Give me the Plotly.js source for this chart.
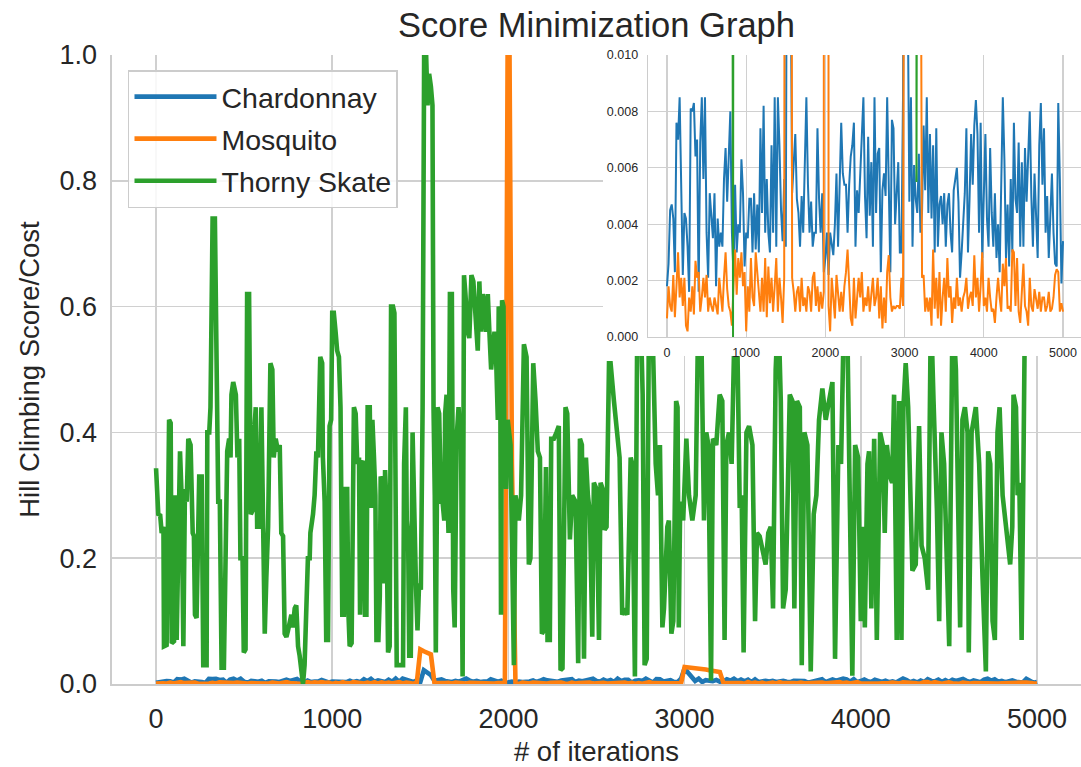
<!DOCTYPE html>
<html><head><meta charset="utf-8">
<script src="https://cdn.plot.ly/plotly-3.0.1.min.js"></script>
<style>html,body{margin:0;padding:0;background:#fff}#chart{width:1081px;height:767px}</style>
</head><body><div id="chart"></div>
<script>
// Sampled iterations for Chardonnay / Mosquito (every 20 iterations, 0..5000)
const sampleStep = 20;
const sampleIter = Array.from({length: 251}, (_, i) => i * sampleStep);

const chardonnayScore = [
0.0018,0.0026,0.0045,0.0047,0.0042,0.0023,0.0076,0.0070,0.0085,0.0047,
0.0022,0.0044,0.0042,0.0032,0.0016,0.0081,0.0080,0.0083,0.0064,0.0070,
0.0016,0.0069,0.0085,0.0056,0.0085,0.0037,0.0021,0.0051,0.0044,0.0035,
0.0051,0.0018,0.0042,0.0032,0.0037,0.0032,0.0056,0.0067,0.0048,0.0062,
0.0080,0.0037,0.0022,0.0054,0.0030,0.0040,0.0037,0.0063,0.0051,0.0025,
0.0037,0.0035,0.0049,0.0049,0.0030,0.0051,0.0031,0.0047,0.0030,0.0074,
0.0044,0.0082,0.0037,0.0056,0.0037,0.0030,0.0068,0.0037,0.0085,0.0032,
0.0085,0.0068,0.0045,0.0034,0.0056,0.0032,0.0220,0.0170,0.0140,0.0051,
0.0061,0.0072,0.0049,0.0044,0.0032,0.0050,0.0037,0.0061,0.0085,0.0054,
0.0037,0.0048,0.0032,0.0037,0.0037,0.0074,0.0049,0.0037,0.0051,0.0023,
0.0028,0.0037,0.0022,0.0037,0.0032,0.0029,0.0040,0.0058,0.0032,0.0051,
0.0076,0.0058,0.0054,0.0054,0.0037,0.0054,0.0064,0.0068,0.0076,0.0032,
0.0052,0.0044,0.0058,0.0068,0.0085,0.0050,0.0035,0.0071,0.0043,0.0062,
0.0032,0.0085,0.0044,0.0065,0.0067,0.0023,0.0052,0.0058,0.0050,0.0085,
0.0054,0.0023,0.0077,0.0074,0.0040,0.0054,0.0062,0.0030,0.0030,0.0085,
0.0250,0.0180,0.0120,0.0048,0.0085,0.0032,0.0061,0.0049,0.0044,0.0065,
0.0037,0.0044,0.0075,0.0052,0.0085,0.0044,0.0072,0.0042,0.0068,0.0030,
0.0074,0.0032,0.0047,0.0050,0.0040,0.0051,0.0032,0.0047,0.0051,0.0037,
0.0030,0.0052,0.0056,0.0060,0.0048,0.0021,0.0030,0.0040,0.0051,0.0074,
0.0030,0.0049,0.0072,0.0054,0.0075,0.0084,0.0072,0.0037,0.0076,0.0028,
0.0047,0.0072,0.0042,0.0032,0.0067,0.0044,0.0032,0.0051,0.0028,0.0040,
0.0023,0.0054,0.0085,0.0063,0.0028,0.0047,0.0025,0.0056,0.0030,0.0076,
0.0049,0.0044,0.0069,0.0032,0.0062,0.0032,0.0067,0.0048,0.0063,0.0080,
0.0050,0.0032,0.0058,0.0042,0.0028,0.0068,0.0083,0.0054,0.0074,0.0037,
0.0050,0.0028,0.0044,0.0058,0.0037,0.0026,0.0025,0.0083,0.0056,0.0019,
0.0034];

const mosquitoScore = [
0.00066,0.0018,0.0011,0.0009,0.0022,0.0007,0.0018,0.0030,0.0014,0.0021,
0.0011,0.0021,0.0004,0.0002,0.0014,0.0009,0.0018,0.0008,0.0027,0.0021,
0.0023,0.0009,0.0014,0.0021,0.0014,0.0022,0.0009,0.0014,0.0011,0.0009,
0.0014,0.0011,0.0008,0.0021,0.0014,0.0009,0.0021,0.0030,0.0017,0.0011,
0.0009,0.0004,0.0018,0.0031,0.0015,0.0028,0.0021,0.0030,0.0018,0.0023,
0.0002,0.0018,0.0009,0.0028,0.0014,0.0011,0.0030,0.0023,0.0016,0.0009,
0.0021,0.0009,0.0028,0.0007,0.0025,0.0012,0.0021,0.0009,0.0018,0.0028,
0.0009,0.0021,0.0014,0.0005,0.0021,0.0550,0.0520,0.0500,0.0470,0.0021,
0.0016,0.0009,0.0016,0.0018,0.0009,0.0021,0.0011,0.0014,0.0009,0.0018,
0.0016,0.0009,0.0021,0.0023,0.0011,0.0018,0.0009,0.0016,0.0010,0.0016,
1.3000,0.3500,0.0011,0.0002,0.0021,0.0014,0.00066,0.0022,0.0016,0.0009,
0.0016,0.0009,0.0018,0.0023,0.0031,0.0021,0.00066,0.0004,0.0021,0.00066,
0.0014,0.0021,0.0014,0.0023,0.0009,0.0014,0.0011,0.0018,0.0009,0.0014,
0.0021,0.0011,0.0014,0.0021,0.00066,0.0018,0.0003,0.0014,0.0005,0.0023,
0.0029,0.0014,0.0009,0.0011,0.0010,0.0011,0.0011,0.0010,0.0021,0.0011,
0.0270,0.0266,0.0261,0.0255,0.0248,0.0239,0.0230,0.0220,0.0210,0.0200,
0.0190,0.0021,0.0022,0.0009,0.0014,0.0009,0.0014,0.0004,0.0031,0.0010,
0.0021,0.00066,0.0023,0.0004,0.0014,0.0021,0.0009,0.0028,0.0014,0.0018,
0.0005,0.0014,0.0010,0.0021,0.0011,0.0014,0.0009,0.0014,0.0016,0.0021,
0.0010,0.0014,0.0016,0.0011,0.0029,0.0014,0.0021,0.0009,0.0018,0.0030,
0.0011,0.0014,0.0009,0.0021,0.0014,0.0009,0.0010,0.0005,0.0014,0.0021,
0.0014,0.0009,0.0026,0.0018,0.0028,0.0010,0.0011,0.0009,0.0031,0.0030,
0.0011,0.0028,0.0009,0.0005,0.0016,0.0026,0.0011,0.0009,0.0004,0.0021,
0.0011,0.0009,0.0017,0.0014,0.0010,0.0016,0.0009,0.0014,0.0014,0.0009,
0.0011,0.0016,0.0009,0.0010,0.0014,0.0022,0.0024,0.0023,0.0009,0.0012,
0.0009];

const skateIter = [
0,8,13,23,32,42,45,60,74,83,89,102,108,117,126,136,145,155,164,174,
183,196,208,215,221,230,245,259,268,287,291,302,309,321,334,343,353,362,372,385,
396,404,415,423,428,438,453,462,472,479,491,498,508,517,528,538,547,555,566,574,
583,589,598,608,617,626,636,649,660,668,679,692,702,711,721,730,740,749,759,768,
777,787,796,806,815,825,834,843,853,862,872,876,891,900,910,919,932,943,947,957,
966,976,985,994,1000,1009,1019,1028,1038,1047,1057,1066,1076,1085,1091,1099,1110,1123,1133,1142,
1152,1158,1167,1175,1186,1194,1201,1213,1220,1228,1237,1245,1251,1262,1270,1275,1285,1294,1300,1307,
1317,1326,1334,1345,1353,1361,1366,1383,1402,1408,1418,1423,1431,1437,1446,1456,1465,1475,1484,1493,
1503,1513,1522,1531,1541,1550,1560,1569,1575,1582,1588,1598,1607,1617,1626,1636,1641,1649,1656,1660,
1668,1679,1687,1695,1706,1717,1725,1731,1740,1748,1756,1769,1778,1790,1801,1809,1816,1826,1835,1845,
1854,1864,1873,1883,1892,1902,1911,1921,1930,1940,1945,1953,1958,1964,1972,1977,1987,1996,2012,2031,
2040,2059,2072,2088,2103,2116,2125,2141,2154,2167,2179,2190,2201,2213,2222,2235,2243,2258,2273,2286,
2296,2307,2324,2334,2349,2362,2381,2396,2406,2417,2429,2440,2451,2463,2476,2485,2500,2514,2523,2535,
2546,2557,2571,2580,2599,2618,2631,2646,2660,2675,2694,2703,2718,2732,2750,2762,2773,2785,2798,2817,
2836,2849,2860,2874,2883,2902,2911,2925,2936,2952,2960,2967,2975,2992,3010,3025,3044,3063,3078,3093,
3110,3123,3135,3150,3161,3180,3199,3214,3227,3237,3252,3267,3286,3299,3313,3324,3335,3351,3366,3385,
3400,3411,3426,3445,3460,3475,3489,3502,3517,3532,3546,3559,3574,3597,3612,3623,3638,3654,3665,3680,
3697,3716,3733,3748,3763,3782,3801,3820,3839,3854,3873,3888,3905,3922,3952,3968,3985,4000,4015,4023,
4038,4047,4060,4076,4091,4110,4125,4136,4148,4166,4178,4189,4204,4218,4231,4242,4255,4269,4280,4293,
4312,4331,4345,4363,4382,4398,4413,4432,4445,4458,4473,4502,4521,4540,4564,4577,4591,4606,4613,4629,
4653,4672,4691,4710,4723,4735,4748,4761,4776,4788,4805,4818,4833,4848,4860,4867,4881,4890,4900,4913,
4922,4932];

const skateScore = [
0.343,0.27,0.268,0.27,0.24,0.25,0.06,0.062,0.42,0.415,0.065,0.068,0.30,0.07,0.19,0.37,0.30,0.06,0.31,0.29,
0.39,0.38,0.24,0.235,0.11,0.105,0.33,0.33,0.03,0.03,0.40,0.40,0.44,0.74,0.74,0.42,0.29,0.29,0.026,0.026,
0.29,0.37,0.39,0.36,0.46,0.48,0.46,0.36,0.39,0.20,0.20,0.05,0.055,0.62,0.62,0.27,0.275,0.39,0.44,0.25,
0.25,0.29,0.44,0.20,0.08,0.17,0.25,0.51,0.50,0.36,0.39,0.37,0.38,0.24,0.235,0.08,0.075,0.085,0.10,0.11,
0.09,0.12,0.125,0.06,0.045,0.02,0.0,0.03,0.10,0.20,0.20,0.24,0.27,0.30,0.37,0.36,0.52,0.51,0.36,0.29,
0.07,0.07,0.41,0.42,0.59,0.59,0.56,0.53,0.52,0.44,0.11,0.11,0.31,0.31,0.12,0.06,0.065,0.44,0.43,0.35,
0.36,0.11,0.35,0.355,0.11,0.11,0.44,0.44,0.28,0.42,0.36,0.30,0.07,0.07,0.14,0.33,0.32,0.16,0.34,0.29,
0.05,0.06,0.60,0.60,0.59,0.29,0.03,0.03,0.03,0.35,0.44,0.26,0.23,0.045,0.045,0.40,0.23,0.16,0.085,0.16,
0.15,0.44,1.02,1.02,0.92,0.97,0.95,0.92,0.44,0.30,0.05,0.44,0.43,0.29,0.29,0.26,0.43,0.46,0.28,0.24,
0.62,0.62,0.15,0.09,0.39,0.44,0.40,0.40,0.012,0.65,0.62,0.56,0.55,0.65,0.64,0.60,0.56,0.53,0.64,0.56,
0.62,0.60,0.56,0.62,0.56,0.50,0.53,0.56,0.52,0.42,0.60,0.59,0.11,0.61,0.60,0.37,0.31,0.42,0.38,0.03,
0.30,0.26,0.30,0.54,0.52,0.19,0.20,0.51,0.45,0.37,0.36,0.08,0.085,0.345,0.07,0.07,0.39,0.39,0.40,0.41,
0.022,0.025,0.44,0.43,0.23,0.30,0.29,0.033,0.39,0.38,0.04,0.36,0.30,0.27,0.075,0.32,0.31,0.07,0.32,0.31,
0.245,0.25,0.51,0.51,0.45,0.40,0.36,0.11,0.12,0.11,0.36,0.35,0.012,0.60,0.60,0.46,0.03,0.04,0.60,0.58,
0.35,0.30,0.38,0.09,0.12,0.25,0.26,0.08,0.10,0.45,0.44,0.09,0.29,0.26,0.39,0.30,0.26,0.30,0.60,0.60,
0.26,0.40,0.38,0.0055,0.39,0.38,0.46,0.45,0.07,0.38,0.40,0.35,0.60,0.55,0.28,0.30,0.05,0.40,0.41,0.38,
0.10,0.24,0.235,0.21,0.19,0.24,0.25,0.12,0.50,0.60,0.45,0.12,0.15,0.46,0.45,0.12,0.45,0.44,0.03,0.40,
0.38,0.02,0.27,0.30,0.42,0.47,0.42,0.45,0.48,0.04,0.38,0.35,0.60,0.60,0.013,0.38,0.36,0.10,0.25,0.09,
0.35,0.37,0.12,0.39,0.07,0.40,0.38,0.24,0.38,0.33,0.32,0.46,0.07,0.45,0.07,0.44,0.51,0.44,0.28,0.18,
0.19,0.41,0.22,0.20,0.15,0.60,0.45,0.28,0.10,0.40,0.35,0.06,0.60,0.50,0.09,0.42,0.44,0.40,0.05,0.40,
0.44,0.35,0.17,0.02,0.37,0.35,0.10,0.07,0.40,0.44,0.30,0.27,0.23,0.19,0.25,0.46,0.44,0.30,0.32,0.07,
0.31,0.60];

const seriesNames = ['Chardonnay', 'Mosquito', 'Thorny Skate'];
const seriesColors = ['#1f77b4', '#ff7f0e', '#2ca02c'];
const xTicks = [0, 1000, 2000, 3000, 4000, 5000];
const yTicks = [0, 0.2, 0.4, 0.6, 0.8, 1.0];
const insetYTicks = [0, 0.002, 0.004, 0.006, 0.008, 0.010];

const FONT = 'Liberation Sans, Arial, Helvetica, sans-serif';
const TXT = '#262626';
const GRID = '#d0d0d0';

const seriesX = [sampleIter, sampleIter, skateIter];
const seriesY = [chardonnayScore, mosquitoScore, skateScore];

const traces = [];
for (let k = 0; k < 3; k++) {
  traces.push({
    type: 'scatter', mode: 'lines', x: seriesX[k], y: seriesY[k],
    name: seriesNames[k], legendgroup: 'g' + k,
    line: {color: seriesColors[k], width: 4.6},
    xaxis: 'x', yaxis: 'y', hoverinfo: 'skip'
  });
}
// white cover behind the inset (its tick-label area)
traces.push({type: 'scatter', mode: 'lines', x: [], y: [], xaxis: 'x2', yaxis: 'y2', showlegend: false, hoverinfo: 'skip'});
for (let k = 0; k < 3; k++) {
  traces.push({
    type: 'scatter', mode: 'lines', x: seriesX[k], y: seriesY[k],
    name: seriesNames[k], showlegend: false,
    line: {color: seriesColors[k], width: 2},
    xaxis: 'x3', yaxis: 'y3', hoverinfo: 'skip'
  });
}

const layout = {
  width: 1081, height: 767,
  margin: {l: 112, r: 0, t: 55, b: 83},
  paper_bgcolor: '#ffffff', plot_bgcolor: '#ffffff',
  font: {family: FONT, color: TXT},
  hovermode: false,
  title: {text: 'Score Minimization Graph', font: {size: 34.5, color: TXT, family: FONT},
          x: 0.5, xref: 'paper', xanchor: 'center', y: 0.968, yref: 'container', yanchor: 'middle'},
  showlegend: true,
  legend: {x: 0.0165, y: 0.976, xanchor: 'left', yanchor: 'top', xref: 'paper', yref: 'paper',
           bgcolor: 'rgba(255,255,255,0.85)', bordercolor: '#cccccc', borderwidth: 1.5,
           font: {size: 28.5, color: TXT, family: FONT}, tracegroupgap: 2, itemwidth: 82},
  xaxis: {domain: [0, 1], range: [-250, 5250], anchor: 'y', tickvals: xTicks,
          showgrid: true, gridcolor: GRID, gridwidth: 1.6, zeroline: false,
          showline: true, linecolor: '#cccccc', linewidth: 1.6, ticks: '',
          tickfont: {size: 27, color: TXT}, ticklabelstandoff: 10,
          title: {text: '# of iterations', font: {size: 27.5, color: TXT}, standoff: 10}},
  yaxis: {domain: [0, 1], range: [0, 1], anchor: 'x', tickvals: yTicks, tickformat: '.1f',
          showgrid: true, gridcolor: GRID, gridwidth: 1.6, zeroline: false,
          showline: true, linecolor: '#cccccc', linewidth: 1.6, ticks: '',
          tickfont: {size: 27, color: TXT}, ticklabelstandoff: 8,
          title: {text: 'Hill Climbing Score/Cost', font: {size: 27.5, color: TXT}, standoff: 12}},
  xaxis2: {domain: [0.5067, 1], range: [0, 1], anchor: 'y2', visible: false, fixedrange: true},
  yaxis2: {domain: [0.5215, 1], range: [0, 1], anchor: 'x2', visible: false, fixedrange: true},
  xaxis3: {domain: [0.5531, 1], range: [-240, 5227], anchor: 'y3', tickvals: xTicks,
           showgrid: true, gridcolor: GRID, gridwidth: 1.3, zeroline: false,
           showline: true, linecolor: '#cccccc', linewidth: 1.3, ticks: '',
           tickfont: {size: 12.5, color: TXT}, ticklabelstandoff: 4},
  yaxis3: {domain: [0.5517, 1], range: [0, 0.010], anchor: 'x3', tickvals: insetYTicks, tickformat: '.3f',
           showgrid: true, gridcolor: GRID, gridwidth: 1.3, zeroline: false,
           showline: true, linecolor: '#cccccc', linewidth: 1.3, ticks: '',
           tickfont: {size: 12.5, color: TXT}, ticklabelstandoff: 6}
};

Plotly.newPlot('chart', traces, layout, {displayModeBar: false, staticPlot: true});
</script>
</body></html>
